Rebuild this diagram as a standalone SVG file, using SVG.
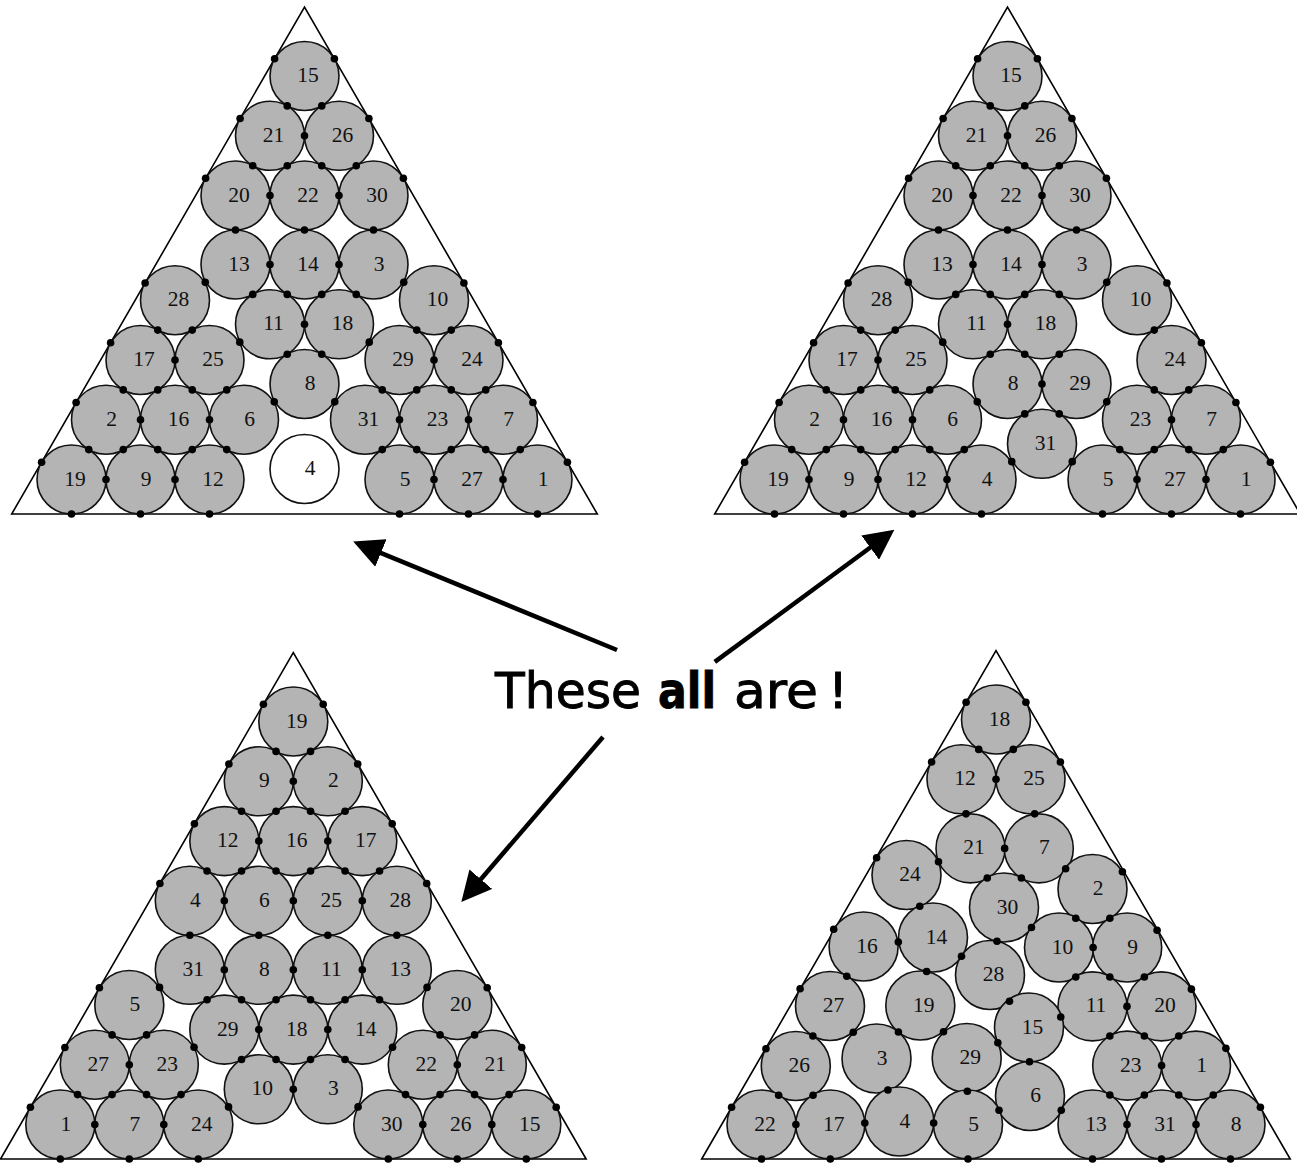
<svg xmlns="http://www.w3.org/2000/svg" width="1297" height="1165" viewBox="0 0 1297 1165">
<style>
.tri{fill:none;stroke:#000;stroke-width:1.6;stroke-linejoin:miter}
.ball circle{fill:#b4b4b4;stroke:#111;stroke-width:1.6}
.ball.empty circle{fill:#fff}
.ball text{font-family:"Liberation Serif","Times New Roman",serif;font-size:21.5px;fill:#111;text-anchor:middle}
.dots use{fill:#000}
.arrow{fill:none;stroke:#000;stroke-width:4.5}
.cap{font-family:"Comic Sans MS","DejaVu Sans",sans-serif;font-size:50px;fill:#000;stroke:#000;stroke-width:0.9}
</style>
<defs>
<circle id="d" r="3.8"/>
<marker id="ah" viewBox="0 0 30 30" markerWidth="30" markerHeight="30" markerUnits="userSpaceOnUse" refX="1" refY="15" orient="auto"><path d="M0,0 L30,15 L0,30 Z" fill="#000"/></marker>
</defs>
<rect width="1297" height="1165" fill="#fff"/>

<!-- Triangle 1 -->
<g id="tri1">
<polygon class="tri" points="11.7,514 304.5,7 597.3,514"/>
<g id="t1-15" class="ball" transform="translate(304.5 76)"><circle r="34.5"/><text x="3.5" y="6">15</text></g>
<g id="t1-21" class="ball" transform="translate(270 135.8)"><circle r="34.5"/><text x="3.5" y="6">21</text></g>
<g id="t1-26" class="ball" transform="translate(339 135.8)"><circle r="34.5"/><text x="3.5" y="6">26</text></g>
<g id="t1-20" class="ball" transform="translate(235.5 195.5)"><circle r="34.5"/><text x="3.5" y="6">20</text></g>
<g id="t1-22" class="ball" transform="translate(304.5 195.5)"><circle r="34.5"/><text x="3.5" y="6">22</text></g>
<g id="t1-30" class="ball" transform="translate(373.5 195.5)"><circle r="34.5"/><text x="3.5" y="6">30</text></g>
<g id="t1-13" class="ball" transform="translate(235.5 264.5)"><circle r="34.5"/><text x="3.5" y="6">13</text></g>
<g id="t1-14" class="ball" transform="translate(304.5 264.5)"><circle r="34.5"/><text x="3.5" y="6">14</text></g>
<g id="t1-3" class="ball" transform="translate(373.5 264.5)"><circle r="34.5"/><text x="5.5" y="6">3</text></g>
<g id="t1-28" class="ball" transform="translate(175 300.2)"><circle r="34.5"/><text x="3.5" y="6">28</text></g>
<g id="t1-10" class="ball" transform="translate(434 300.2)"><circle r="34.5"/><text x="3.5" y="6">10</text></g>
<g id="t1-11" class="ball" transform="translate(270 324.3)"><circle r="34.5"/><text x="3.5" y="6">11</text></g>
<g id="t1-18" class="ball" transform="translate(339 324.3)"><circle r="34.5"/><text x="3.5" y="6">18</text></g>
<g id="t1-17" class="ball" transform="translate(140.5 360)"><circle r="34.5"/><text x="3.5" y="6">17</text></g>
<g id="t1-25" class="ball" transform="translate(209.5 360)"><circle r="34.5"/><text x="3.5" y="6">25</text></g>
<g id="t1-29" class="ball" transform="translate(399.5 360)"><circle r="34.5"/><text x="3.5" y="6">29</text></g>
<g id="t1-24" class="ball" transform="translate(468.5 360)"><circle r="34.5"/><text x="3.5" y="6">24</text></g>
<g id="t1-8" class="ball" transform="translate(304.5 384)"><circle r="34.5"/><text x="5.5" y="6">8</text></g>
<g id="t1-2" class="ball" transform="translate(106 419.7)"><circle r="34.5"/><text x="5.5" y="6">2</text></g>
<g id="t1-16" class="ball" transform="translate(175 419.7)"><circle r="34.5"/><text x="3.5" y="6">16</text></g>
<g id="t1-6" class="ball" transform="translate(244 419.7)"><circle r="34.5"/><text x="5.5" y="6">6</text></g>
<g id="t1-31" class="ball" transform="translate(365 419.7)"><circle r="34.5"/><text x="3.5" y="6">31</text></g>
<g id="t1-23" class="ball" transform="translate(434 419.7)"><circle r="34.5"/><text x="3.5" y="6">23</text></g>
<g id="t1-7" class="ball" transform="translate(503 419.7)"><circle r="34.5"/><text x="5.5" y="6">7</text></g>
<g id="t1-19" class="ball" transform="translate(71.5 479.5)"><circle r="34.5"/><text x="3.5" y="6">19</text></g>
<g id="t1-9" class="ball" transform="translate(140.5 479.5)"><circle r="34.5"/><text x="5.5" y="6">9</text></g>
<g id="t1-12" class="ball" transform="translate(209.5 479.5)"><circle r="34.5"/><text x="3.5" y="6">12</text></g>
<g id="t1-4" class="ball empty" transform="translate(304.5 469)"><circle r="34.5"/><text x="5.5" y="6">4</text></g>
<g id="t1-5" class="ball" transform="translate(399.5 479.5)"><circle r="34.5"/><text x="5.5" y="6">5</text></g>
<g id="t1-27" class="ball" transform="translate(468.5 479.5)"><circle r="34.5"/><text x="3.5" y="6">27</text></g>
<g id="t1-1" class="ball" transform="translate(537.5 479.5)"><circle r="34.5"/><text x="5.5" y="6">1</text></g>
<g class="dots" id="t1-contacts">
<g transform="translate(304.5 76)"><use href="#d" x="-29.9" y="-17.25"/><use href="#d" x="29.9" y="-17.25"/><use href="#d" x="-17.25" y="29.9"/><use href="#d" x="17.25" y="29.9"/></g>
<g transform="translate(270 135.8)"><use href="#d" x="-29.9" y="-17.25"/><use href="#d" x="34.5" y="0"/><use href="#d" x="-17.25" y="29.9"/><use href="#d" x="17.25" y="29.9"/></g>
<g transform="translate(339 135.8)"><use href="#d" x="29.9" y="-17.25"/><use href="#d" x="-17.25" y="29.9"/><use href="#d" x="17.25" y="29.9"/></g>
<g transform="translate(235.5 195.5)"><use href="#d" x="-29.9" y="-17.25"/><use href="#d" x="34.5" y="0"/><use href="#d" x="0" y="34.5"/></g>
<g transform="translate(304.5 195.5)"><use href="#d" x="34.5" y="0"/><use href="#d" x="0" y="34.5"/></g>
<g transform="translate(373.5 195.5)"><use href="#d" x="29.9" y="-17.25"/><use href="#d" x="0" y="34.5"/></g>
<g transform="translate(235.5 264.5)"><use href="#d" x="34.5" y="0"/><use href="#d" x="17.25" y="29.9"/></g>
<g transform="translate(304.5 264.5)"><use href="#d" x="34.5" y="0"/><use href="#d" x="-17.25" y="29.9"/><use href="#d" x="17.25" y="29.9"/></g>
<g transform="translate(373.5 264.5)"><use href="#d" x="-17.25" y="29.9"/></g>
<g transform="translate(175 300.2)"><use href="#d" x="-29.9" y="-17.25"/><use href="#d" x="30.25" y="-17.85"/><use href="#d" x="-17.25" y="29.9"/><use href="#d" x="17.25" y="29.9"/></g>
<g transform="translate(434 300.2)"><use href="#d" x="29.9" y="-17.25"/><use href="#d" x="-30.25" y="-17.85"/><use href="#d" x="-17.25" y="29.9"/><use href="#d" x="17.25" y="29.9"/></g>
<g transform="translate(270 324.3)"><use href="#d" x="34.5" y="0"/><use href="#d" x="17.25" y="29.9"/></g>
<g transform="translate(339 324.3)"><use href="#d" x="-17.25" y="29.9"/></g>
<g transform="translate(140.5 360)"><use href="#d" x="-29.9" y="-17.25"/><use href="#d" x="34.5" y="0"/><use href="#d" x="-17.25" y="29.9"/><use href="#d" x="17.25" y="29.9"/></g>
<g transform="translate(209.5 360)"><use href="#d" x="30.25" y="-17.85"/><use href="#d" x="-17.25" y="29.9"/><use href="#d" x="17.25" y="29.9"/></g>
<g transform="translate(399.5 360)"><use href="#d" x="-30.25" y="-17.85"/><use href="#d" x="34.5" y="0"/><use href="#d" x="-17.25" y="29.9"/><use href="#d" x="17.25" y="29.9"/></g>
<g transform="translate(468.5 360)"><use href="#d" x="29.9" y="-17.25"/><use href="#d" x="-17.25" y="29.9"/><use href="#d" x="17.25" y="29.9"/></g>
<g transform="translate(244 419.7)"><use href="#d" x="30.25" y="-17.85"/><use href="#d" x="-17.25" y="29.9"/></g>
<g transform="translate(365 419.7)"><use href="#d" x="-30.25" y="-17.85"/><use href="#d" x="34.5" y="0"/><use href="#d" x="17.25" y="29.9"/></g>
<g transform="translate(106 419.7)"><use href="#d" x="-29.9" y="-17.25"/><use href="#d" x="34.5" y="0"/><use href="#d" x="-17.25" y="29.9"/><use href="#d" x="17.25" y="29.9"/></g>
<g transform="translate(175 419.7)"><use href="#d" x="34.5" y="0"/><use href="#d" x="-17.25" y="29.9"/><use href="#d" x="17.25" y="29.9"/></g>
<g transform="translate(434 419.7)"><use href="#d" x="34.5" y="0"/><use href="#d" x="-17.25" y="29.9"/><use href="#d" x="17.25" y="29.9"/></g>
<g transform="translate(503 419.7)"><use href="#d" x="29.9" y="-17.25"/><use href="#d" x="-17.25" y="29.9"/><use href="#d" x="17.25" y="29.9"/></g>
<g transform="translate(71.5 479.5)"><use href="#d" x="-29.9" y="-17.25"/><use href="#d" x="34.5" y="0"/><use href="#d" x="0" y="34.5"/></g>
<g transform="translate(140.5 479.5)"><use href="#d" x="34.5" y="0"/><use href="#d" x="0" y="34.5"/></g>
<g transform="translate(209.5 479.5)"><use href="#d" x="0" y="34.5"/></g>
<g transform="translate(399.5 479.5)"><use href="#d" x="34.5" y="0"/><use href="#d" x="0" y="34.5"/></g>
<g transform="translate(468.5 479.5)"><use href="#d" x="34.5" y="0"/><use href="#d" x="0" y="34.5"/></g>
<g transform="translate(537.5 479.5)"><use href="#d" x="29.9" y="-17.25"/><use href="#d" x="0" y="34.5"/></g>
</g>
</g>

<!-- Triangle 2 -->
<g id="tri2">
<polygon class="tri" points="714.7,514 1007.5,7 1300.3,514"/>
<g id="t2-15" class="ball" transform="translate(1007.5 76)"><circle r="34.5"/><text x="3.5" y="6">15</text></g>
<g id="t2-21" class="ball" transform="translate(973 135.8)"><circle r="34.5"/><text x="3.5" y="6">21</text></g>
<g id="t2-26" class="ball" transform="translate(1042 135.8)"><circle r="34.5"/><text x="3.5" y="6">26</text></g>
<g id="t2-20" class="ball" transform="translate(938.5 195.5)"><circle r="34.5"/><text x="3.5" y="6">20</text></g>
<g id="t2-22" class="ball" transform="translate(1007.5 195.5)"><circle r="34.5"/><text x="3.5" y="6">22</text></g>
<g id="t2-30" class="ball" transform="translate(1076.5 195.5)"><circle r="34.5"/><text x="3.5" y="6">30</text></g>
<g id="t2-13" class="ball" transform="translate(938.5 264.5)"><circle r="34.5"/><text x="3.5" y="6">13</text></g>
<g id="t2-14" class="ball" transform="translate(1007.5 264.5)"><circle r="34.5"/><text x="3.5" y="6">14</text></g>
<g id="t2-3" class="ball" transform="translate(1076.5 264.5)"><circle r="34.5"/><text x="5.5" y="6">3</text></g>
<g id="t2-28" class="ball" transform="translate(878 300.2)"><circle r="34.5"/><text x="3.5" y="6">28</text></g>
<g id="t2-10" class="ball" transform="translate(1137 300.2)"><circle r="34.5"/><text x="3.5" y="6">10</text></g>
<g id="t2-11" class="ball" transform="translate(973 324.3)"><circle r="34.5"/><text x="3.5" y="6">11</text></g>
<g id="t2-18" class="ball" transform="translate(1042 324.3)"><circle r="34.5"/><text x="3.5" y="6">18</text></g>
<g id="t2-17" class="ball" transform="translate(843.5 360)"><circle r="34.5"/><text x="3.5" y="6">17</text></g>
<g id="t2-25" class="ball" transform="translate(912.5 360)"><circle r="34.5"/><text x="3.5" y="6">25</text></g>
<g id="t2-24" class="ball" transform="translate(1171.5 360)"><circle r="34.5"/><text x="3.5" y="6">24</text></g>
<g id="t2-8" class="ball" transform="translate(1007.5 384)"><circle r="34.5"/><text x="5.5" y="6">8</text></g>
<g id="t2-29" class="ball" transform="translate(1076.5 384)"><circle r="34.5"/><text x="3.5" y="6">29</text></g>
<g id="t2-2" class="ball" transform="translate(809 419.7)"><circle r="34.5"/><text x="5.5" y="6">2</text></g>
<g id="t2-16" class="ball" transform="translate(878 419.7)"><circle r="34.5"/><text x="3.5" y="6">16</text></g>
<g id="t2-6" class="ball" transform="translate(947 419.7)"><circle r="34.5"/><text x="5.5" y="6">6</text></g>
<g id="t2-23" class="ball" transform="translate(1137 419.7)"><circle r="34.5"/><text x="3.5" y="6">23</text></g>
<g id="t2-7" class="ball" transform="translate(1206 419.7)"><circle r="34.5"/><text x="5.5" y="6">7</text></g>
<g id="t2-31" class="ball" transform="translate(1042 443.8)"><circle r="34.5"/><text x="3.5" y="6">31</text></g>
<g id="t2-19" class="ball" transform="translate(774.5 479.5)"><circle r="34.5"/><text x="3.5" y="6">19</text></g>
<g id="t2-9" class="ball" transform="translate(843.5 479.5)"><circle r="34.5"/><text x="5.5" y="6">9</text></g>
<g id="t2-12" class="ball" transform="translate(912.5 479.5)"><circle r="34.5"/><text x="3.5" y="6">12</text></g>
<g id="t2-4" class="ball" transform="translate(981.5 479.5)"><circle r="34.5"/><text x="5.5" y="6">4</text></g>
<g id="t2-5" class="ball" transform="translate(1102.5 479.5)"><circle r="34.5"/><text x="5.5" y="6">5</text></g>
<g id="t2-27" class="ball" transform="translate(1171.5 479.5)"><circle r="34.5"/><text x="3.5" y="6">27</text></g>
<g id="t2-1" class="ball" transform="translate(1240.5 479.5)"><circle r="34.5"/><text x="5.5" y="6">1</text></g>
<g class="dots" id="t2-contacts">
<g transform="translate(1007.5 76)"><use href="#d" x="-29.9" y="-17.25"/><use href="#d" x="29.9" y="-17.25"/><use href="#d" x="-17.25" y="29.9"/><use href="#d" x="17.25" y="29.9"/></g>
<g transform="translate(973 135.8)"><use href="#d" x="-29.9" y="-17.25"/><use href="#d" x="34.5" y="0"/><use href="#d" x="-17.25" y="29.9"/><use href="#d" x="17.25" y="29.9"/></g>
<g transform="translate(1042 135.8)"><use href="#d" x="29.9" y="-17.25"/><use href="#d" x="-17.25" y="29.9"/><use href="#d" x="17.25" y="29.9"/></g>
<g transform="translate(938.5 195.5)"><use href="#d" x="-29.9" y="-17.25"/><use href="#d" x="34.5" y="0"/><use href="#d" x="0" y="34.5"/></g>
<g transform="translate(1007.5 195.5)"><use href="#d" x="34.5" y="0"/><use href="#d" x="0" y="34.5"/></g>
<g transform="translate(1076.5 195.5)"><use href="#d" x="29.9" y="-17.25"/><use href="#d" x="0" y="34.5"/></g>
<g transform="translate(938.5 264.5)"><use href="#d" x="34.5" y="0"/><use href="#d" x="17.25" y="29.9"/></g>
<g transform="translate(1007.5 264.5)"><use href="#d" x="34.5" y="0"/><use href="#d" x="-17.25" y="29.9"/><use href="#d" x="17.25" y="29.9"/></g>
<g transform="translate(1076.5 264.5)"><use href="#d" x="-17.25" y="29.9"/></g>
<g transform="translate(878 300.2)"><use href="#d" x="-29.9" y="-17.25"/><use href="#d" x="30.25" y="-17.85"/><use href="#d" x="-17.25" y="29.9"/><use href="#d" x="17.25" y="29.9"/></g>
<g transform="translate(1137 300.2)"><use href="#d" x="29.9" y="-17.25"/><use href="#d" x="-30.25" y="-17.85"/><use href="#d" x="17.25" y="29.9"/></g>
<g transform="translate(973 324.3)"><use href="#d" x="34.5" y="0"/><use href="#d" x="17.25" y="29.9"/></g>
<g transform="translate(1042 324.3)"><use href="#d" x="-17.25" y="29.9"/><use href="#d" x="17.25" y="29.9"/></g>
<g transform="translate(843.5 360)"><use href="#d" x="-29.9" y="-17.25"/><use href="#d" x="34.5" y="0"/><use href="#d" x="-17.25" y="29.9"/><use href="#d" x="17.25" y="29.9"/></g>
<g transform="translate(912.5 360)"><use href="#d" x="30.25" y="-17.85"/><use href="#d" x="-17.25" y="29.9"/><use href="#d" x="17.25" y="29.9"/></g>
<g transform="translate(1171.5 360)"><use href="#d" x="29.9" y="-17.25"/><use href="#d" x="-17.25" y="29.9"/><use href="#d" x="17.25" y="29.9"/></g>
<g transform="translate(1007.5 384)"><use href="#d" x="34.5" y="0"/><use href="#d" x="17.25" y="29.9"/></g>
<g transform="translate(1076.5 384)"><use href="#d" x="-17.25" y="29.9"/><use href="#d" x="30.25" y="17.85"/></g>
<g transform="translate(809 419.7)"><use href="#d" x="-29.9" y="-17.25"/><use href="#d" x="34.5" y="0"/><use href="#d" x="-17.25" y="29.9"/><use href="#d" x="17.25" y="29.9"/></g>
<g transform="translate(878 419.7)"><use href="#d" x="34.5" y="0"/><use href="#d" x="-17.25" y="29.9"/><use href="#d" x="17.25" y="29.9"/></g>
<g transform="translate(947 419.7)"><use href="#d" x="30.25" y="-17.85"/><use href="#d" x="-17.25" y="29.9"/><use href="#d" x="17.25" y="29.9"/></g>
<g transform="translate(1137 419.7)"><use href="#d" x="34.5" y="0"/><use href="#d" x="-17.25" y="29.9"/><use href="#d" x="17.25" y="29.9"/></g>
<g transform="translate(1206 419.7)"><use href="#d" x="29.9" y="-17.25"/><use href="#d" x="-17.25" y="29.9"/><use href="#d" x="17.25" y="29.9"/></g>
<g transform="translate(1042 443.8)"><use href="#d" x="-30.25" y="17.85"/><use href="#d" x="30.25" y="17.85"/></g>
<g transform="translate(774.5 479.5)"><use href="#d" x="-29.9" y="-17.25"/><use href="#d" x="34.5" y="0"/><use href="#d" x="0" y="34.5"/></g>
<g transform="translate(843.5 479.5)"><use href="#d" x="34.5" y="0"/><use href="#d" x="0" y="34.5"/></g>
<g transform="translate(912.5 479.5)"><use href="#d" x="34.5" y="0"/><use href="#d" x="0" y="34.5"/></g>
<g transform="translate(981.5 479.5)"><use href="#d" x="0" y="34.5"/></g>
<g transform="translate(1102.5 479.5)"><use href="#d" x="34.5" y="0"/><use href="#d" x="0" y="34.5"/></g>
<g transform="translate(1171.5 479.5)"><use href="#d" x="34.5" y="0"/><use href="#d" x="0" y="34.5"/></g>
<g transform="translate(1240.5 479.5)"><use href="#d" x="29.9" y="-17.25"/><use href="#d" x="0" y="34.5"/></g>
</g>
</g>

<!-- Triangle 3 -->
<g id="tri3">
<polygon class="tri" points="0.5,1159 293.3,652.5 586.1,1159"/>
<g id="t3-19" class="ball" transform="translate(293.3 721.5)"><circle r="34.5"/><text x="3.5" y="6">19</text></g>
<g id="t3-9" class="ball" transform="translate(258.8 781.3)"><circle r="34.5"/><text x="5.5" y="6">9</text></g>
<g id="t3-2" class="ball" transform="translate(327.8 781.3)"><circle r="34.5"/><text x="5.5" y="6">2</text></g>
<g id="t3-12" class="ball" transform="translate(224.3 841.1)"><circle r="34.5"/><text x="3.5" y="6">12</text></g>
<g id="t3-16" class="ball" transform="translate(293.3 841.1)"><circle r="34.5"/><text x="3.5" y="6">16</text></g>
<g id="t3-17" class="ball" transform="translate(362.3 841.1)"><circle r="34.5"/><text x="3.5" y="6">17</text></g>
<g id="t3-4" class="ball" transform="translate(189.8 900.8)"><circle r="34.5"/><text x="5.5" y="6">4</text></g>
<g id="t3-6" class="ball" transform="translate(258.8 900.8)"><circle r="34.5"/><text x="5.5" y="6">6</text></g>
<g id="t3-25" class="ball" transform="translate(327.8 900.8)"><circle r="34.5"/><text x="3.5" y="6">25</text></g>
<g id="t3-28" class="ball" transform="translate(396.8 900.8)"><circle r="34.5"/><text x="3.5" y="6">28</text></g>
<g id="t3-31" class="ball" transform="translate(189.8 969.8)"><circle r="34.5"/><text x="3.5" y="6">31</text></g>
<g id="t3-8" class="ball" transform="translate(258.8 969.8)"><circle r="34.5"/><text x="5.5" y="6">8</text></g>
<g id="t3-11" class="ball" transform="translate(327.8 969.8)"><circle r="34.5"/><text x="3.5" y="6">11</text></g>
<g id="t3-13" class="ball" transform="translate(396.8 969.8)"><circle r="34.5"/><text x="3.5" y="6">13</text></g>
<g id="t3-5" class="ball" transform="translate(129.3 1005)"><circle r="34.5"/><text x="5.5" y="6">5</text></g>
<g id="t3-20" class="ball" transform="translate(457.3 1005)"><circle r="34.5"/><text x="3.5" y="6">20</text></g>
<g id="t3-29" class="ball" transform="translate(224.3 1029.6)"><circle r="34.5"/><text x="3.5" y="6">29</text></g>
<g id="t3-18" class="ball" transform="translate(293.3 1029.6)"><circle r="34.5"/><text x="3.5" y="6">18</text></g>
<g id="t3-14" class="ball" transform="translate(362.3 1029.6)"><circle r="34.5"/><text x="3.5" y="6">14</text></g>
<g id="t3-27" class="ball" transform="translate(94.8 1064.7)"><circle r="34.5"/><text x="3.5" y="6">27</text></g>
<g id="t3-23" class="ball" transform="translate(163.8 1064.7)"><circle r="34.5"/><text x="3.5" y="6">23</text></g>
<g id="t3-22" class="ball" transform="translate(422.8 1064.7)"><circle r="34.5"/><text x="3.5" y="6">22</text></g>
<g id="t3-21" class="ball" transform="translate(491.8 1064.7)"><circle r="34.5"/><text x="3.5" y="6">21</text></g>
<g id="t3-10" class="ball" transform="translate(258.8 1089.3)"><circle r="34.5"/><text x="3.5" y="6">10</text></g>
<g id="t3-3" class="ball" transform="translate(327.8 1089.3)"><circle r="34.5"/><text x="5.5" y="6">3</text></g>
<g id="t3-1" class="ball" transform="translate(60.3 1124.5)"><circle r="34.5"/><text x="5.5" y="6">1</text></g>
<g id="t3-7" class="ball" transform="translate(129.3 1124.5)"><circle r="34.5"/><text x="5.5" y="6">7</text></g>
<g id="t3-24" class="ball" transform="translate(198.3 1124.5)"><circle r="34.5"/><text x="3.5" y="6">24</text></g>
<g id="t3-30" class="ball" transform="translate(388.3 1124.5)"><circle r="34.5"/><text x="3.5" y="6">30</text></g>
<g id="t3-26" class="ball" transform="translate(457.3 1124.5)"><circle r="34.5"/><text x="3.5" y="6">26</text></g>
<g id="t3-15" class="ball" transform="translate(526.3 1124.5)"><circle r="34.5"/><text x="3.5" y="6">15</text></g>
<g class="dots" id="t3-contacts">
<g transform="translate(293.3 721.5)"><use href="#d" x="-29.9" y="-17.25"/><use href="#d" x="29.9" y="-17.25"/><use href="#d" x="-17.25" y="29.9"/><use href="#d" x="17.25" y="29.9"/></g>
<g transform="translate(258.8 781.3)"><use href="#d" x="-29.9" y="-17.25"/><use href="#d" x="34.5" y="0"/><use href="#d" x="-17.25" y="29.9"/><use href="#d" x="17.25" y="29.9"/></g>
<g transform="translate(327.8 781.3)"><use href="#d" x="29.9" y="-17.25"/><use href="#d" x="-17.25" y="29.9"/><use href="#d" x="17.25" y="29.9"/></g>
<g transform="translate(224.3 841.1)"><use href="#d" x="-29.9" y="-17.25"/><use href="#d" x="34.5" y="0"/><use href="#d" x="-17.25" y="29.9"/><use href="#d" x="17.25" y="29.9"/></g>
<g transform="translate(293.3 841.1)"><use href="#d" x="34.5" y="0"/><use href="#d" x="-17.25" y="29.9"/><use href="#d" x="17.25" y="29.9"/></g>
<g transform="translate(362.3 841.1)"><use href="#d" x="29.9" y="-17.25"/><use href="#d" x="-17.25" y="29.9"/><use href="#d" x="17.25" y="29.9"/></g>
<g transform="translate(189.8 900.8)"><use href="#d" x="-29.9" y="-17.25"/><use href="#d" x="34.5" y="0"/><use href="#d" x="0" y="34.5"/></g>
<g transform="translate(258.8 900.8)"><use href="#d" x="34.5" y="0"/><use href="#d" x="0" y="34.5"/></g>
<g transform="translate(327.8 900.8)"><use href="#d" x="34.5" y="0"/><use href="#d" x="0" y="34.5"/></g>
<g transform="translate(396.8 900.8)"><use href="#d" x="29.9" y="-17.25"/><use href="#d" x="0" y="34.5"/></g>
<g transform="translate(189.8 969.8)"><use href="#d" x="34.5" y="0"/><use href="#d" x="-30.25" y="17.6"/><use href="#d" x="17.25" y="29.9"/></g>
<g transform="translate(258.8 969.8)"><use href="#d" x="34.5" y="0"/><use href="#d" x="-17.25" y="29.9"/><use href="#d" x="17.25" y="29.9"/></g>
<g transform="translate(327.8 969.8)"><use href="#d" x="34.5" y="0"/><use href="#d" x="-17.25" y="29.9"/><use href="#d" x="17.25" y="29.9"/></g>
<g transform="translate(396.8 969.8)"><use href="#d" x="-17.25" y="29.9"/><use href="#d" x="30.25" y="17.6"/></g>
<g transform="translate(129.3 1005)"><use href="#d" x="-29.9" y="-17.25"/><use href="#d" x="-17.25" y="29.9"/><use href="#d" x="17.25" y="29.9"/></g>
<g transform="translate(457.3 1005)"><use href="#d" x="29.9" y="-17.25"/><use href="#d" x="-17.25" y="29.9"/><use href="#d" x="17.25" y="29.9"/></g>
<g transform="translate(224.3 1029.6)"><use href="#d" x="34.5" y="0"/><use href="#d" x="-30.25" y="17.6"/><use href="#d" x="17.25" y="29.9"/></g>
<g transform="translate(293.3 1029.6)"><use href="#d" x="34.5" y="0"/><use href="#d" x="-17.25" y="29.9"/><use href="#d" x="17.25" y="29.9"/></g>
<g transform="translate(362.3 1029.6)"><use href="#d" x="-17.25" y="29.9"/><use href="#d" x="30.25" y="17.6"/></g>
<g transform="translate(94.8 1064.7)"><use href="#d" x="-29.9" y="-17.25"/><use href="#d" x="34.5" y="0"/><use href="#d" x="-17.25" y="29.9"/><use href="#d" x="17.25" y="29.9"/></g>
<g transform="translate(163.8 1064.7)"><use href="#d" x="-17.25" y="29.9"/><use href="#d" x="17.25" y="29.9"/></g>
<g transform="translate(422.8 1064.7)"><use href="#d" x="34.5" y="0"/><use href="#d" x="-17.25" y="29.9"/><use href="#d" x="17.25" y="29.9"/></g>
<g transform="translate(491.8 1064.7)"><use href="#d" x="29.9" y="-17.25"/><use href="#d" x="-17.25" y="29.9"/><use href="#d" x="17.25" y="29.9"/></g>
<g transform="translate(258.8 1089.3)"><use href="#d" x="34.5" y="0"/><use href="#d" x="-30.25" y="17.6"/></g>
<g transform="translate(327.8 1089.3)"><use href="#d" x="30.25" y="17.6"/></g>
<g transform="translate(60.3 1124.5)"><use href="#d" x="-29.9" y="-17.25"/><use href="#d" x="34.5" y="0"/><use href="#d" x="0" y="34.5"/></g>
<g transform="translate(129.3 1124.5)"><use href="#d" x="34.5" y="0"/><use href="#d" x="0" y="34.5"/></g>
<g transform="translate(198.3 1124.5)"><use href="#d" x="0" y="34.5"/></g>
<g transform="translate(388.3 1124.5)"><use href="#d" x="34.5" y="0"/><use href="#d" x="0" y="34.5"/></g>
<g transform="translate(457.3 1124.5)"><use href="#d" x="34.5" y="0"/><use href="#d" x="0" y="34.5"/></g>
<g transform="translate(526.3 1124.5)"><use href="#d" x="29.9" y="-17.25"/><use href="#d" x="0" y="34.5"/></g>
</g>
</g>

<!-- Triangle 4 -->
<g id="tri4">
<polygon class="tri" points="701.7,1159 996,650.5 1290.2,1159"/>
<g id="t4-18" class="ball" transform="translate(996 719.5)"><circle r="34.5"/><text x="3.5" y="6">18</text></g>
<g id="t4-12" class="ball" transform="translate(961.5 779.3)"><circle r="34.5"/><text x="3.5" y="6">12</text></g>
<g id="t4-25" class="ball" transform="translate(1030.5 779.3)"><circle r="34.5"/><text x="3.5" y="6">25</text></g>
<g id="t4-21" class="ball" transform="translate(970.5 848.4)"><circle r="34.5"/><text x="3.5" y="6">21</text></g>
<g id="t4-7" class="ball" transform="translate(1038.8 848.4)"><circle r="34.5"/><text x="5.5" y="6">7</text></g>
<g id="t4-24" class="ball" transform="translate(906.5 875)"><circle r="34.5"/><text x="3.5" y="6">24</text></g>
<g id="t4-2" class="ball" transform="translate(1092.5 889)"><circle r="34.5"/><text x="5.5" y="6">2</text></g>
<g id="t4-30" class="ball" transform="translate(1004 907.5)"><circle r="34.5"/><text x="3.5" y="6">30</text></g>
<g id="t4-16" class="ball" transform="translate(863.6 946.5)"><circle r="34.5"/><text x="3.5" y="6">16</text></g>
<g id="t4-14" class="ball" transform="translate(933 937.5)"><circle r="34.5"/><text x="3.5" y="6">14</text></g>
<g id="t4-10" class="ball" transform="translate(1059 947.5)"><circle r="34.5"/><text x="3.5" y="6">10</text></g>
<g id="t4-9" class="ball" transform="translate(1127.2 947.5)"><circle r="34.5"/><text x="5.5" y="6">9</text></g>
<g id="t4-28" class="ball" transform="translate(990 975)"><circle r="34.5"/><text x="3.5" y="6">28</text></g>
<g id="t4-27" class="ball" transform="translate(830 1006)"><circle r="34.5"/><text x="3.5" y="6">27</text></g>
<g id="t4-19" class="ball" transform="translate(920.3 1005.5)"><circle r="34.5"/><text x="3.5" y="6">19</text></g>
<g id="t4-11" class="ball" transform="translate(1092.5 1006.4)"><circle r="34.5"/><text x="3.5" y="6">11</text></g>
<g id="t4-20" class="ball" transform="translate(1161.5 1006.4)"><circle r="34.5"/><text x="3.5" y="6">20</text></g>
<g id="t4-15" class="ball" transform="translate(1029 1027.5)"><circle r="34.5"/><text x="3.5" y="6">15</text></g>
<g id="t4-26" class="ball" transform="translate(795.8 1066)"><circle r="34.5"/><text x="3.5" y="6">26</text></g>
<g id="t4-3" class="ball" transform="translate(876.5 1058.5)"><circle r="34.5"/><text x="5.5" y="6">3</text></g>
<g id="t4-29" class="ball" transform="translate(966.7 1058)"><circle r="34.5"/><text x="3.5" y="6">29</text></g>
<g id="t4-23" class="ball" transform="translate(1127.2 1065.6)"><circle r="34.5"/><text x="3.5" y="6">23</text></g>
<g id="t4-1" class="ball" transform="translate(1196 1065.6)"><circle r="34.5"/><text x="5.5" y="6">1</text></g>
<g id="t4-6" class="ball" transform="translate(1030 1096)"><circle r="34.5"/><text x="5.5" y="6">6</text></g>
<g id="t4-22" class="ball" transform="translate(761.5 1124.5)"><circle r="34.5"/><text x="3.5" y="6">22</text></g>
<g id="t4-17" class="ball" transform="translate(830.3 1124.5)"><circle r="34.5"/><text x="3.5" y="6">17</text></g>
<g id="t4-4" class="ball" transform="translate(899.3 1121.5)"><circle r="34.5"/><text x="5.5" y="6">4</text></g>
<g id="t4-5" class="ball" transform="translate(968 1124.5)"><circle r="34.5"/><text x="5.5" y="6">5</text></g>
<g id="t4-13" class="ball" transform="translate(1092.5 1124.5)"><circle r="34.5"/><text x="3.5" y="6">13</text></g>
<g id="t4-31" class="ball" transform="translate(1161.5 1124.5)"><circle r="34.5"/><text x="3.5" y="6">31</text></g>
<g id="t4-8" class="ball" transform="translate(1230.5 1124.5)"><circle r="34.5"/><text x="5.5" y="6">8</text></g>
<g class="dots" id="t4-contacts">
<g transform="translate(996 719.5)"><use href="#d" x="-29.9" y="-17.25"/><use href="#d" x="29.9" y="-17.25"/><use href="#d" x="-17.25" y="29.9"/><use href="#d" x="17.25" y="29.9"/></g>
<g transform="translate(961.5 779.3)"><use href="#d" x="-29.9" y="-17.25"/><use href="#d" x="34.5" y="0"/><use href="#d" x="4.5" y="34.55"/></g>
<g transform="translate(1030.5 779.3)"><use href="#d" x="29.9" y="-17.25"/><use href="#d" x="4.15" y="34.55"/></g>
<g transform="translate(970.5 848.4)"><use href="#d" x="34.15" y="0"/><use href="#d" x="-32" y="13.3"/><use href="#d" x="16.75" y="29.55"/></g>
<g transform="translate(1038.8 848.4)"><use href="#d" x="-17.4" y="29.55"/><use href="#d" x="26.85" y="20.3"/></g>
<g transform="translate(906.5 875)"><use href="#d" x="-29.9" y="-17.25"/><use href="#d" x="13.25" y="31.25"/></g>
<g transform="translate(1092.5 889)"><use href="#d" x="29.9" y="-17.25"/><use href="#d" x="-16.75" y="29.25"/><use href="#d" x="17.35" y="29.25"/></g>
<g transform="translate(1004 907.5)"><use href="#d" x="27.5" y="20"/><use href="#d" x="-7" y="33.75"/></g>
<g transform="translate(863.6 946.5)"><use href="#d" x="-29.9" y="-17.25"/><use href="#d" x="34.7" y="-4.5"/><use href="#d" x="-16.8" y="29.75"/></g>
<g transform="translate(933 937.5)"><use href="#d" x="28.5" y="18.75"/><use href="#d" x="-6.35" y="34"/></g>
<g transform="translate(1059 947.5)"><use href="#d" x="34.1" y="0"/><use href="#d" x="16.75" y="29.45"/></g>
<g transform="translate(1127.2 947.5)"><use href="#d" x="29.9" y="-17.25"/><use href="#d" x="-17.35" y="29.45"/><use href="#d" x="17.15" y="29.45"/></g>
<g transform="translate(990 975)"><use href="#d" x="19.5" y="26.25"/></g>
<g transform="translate(830 1006)"><use href="#d" x="-29.9" y="-17.25"/><use href="#d" x="-17.1" y="30"/><use href="#d" x="23.25" y="26.25"/></g>
<g transform="translate(920.3 1005.5)"><use href="#d" x="-21.9" y="26.5"/><use href="#d" x="23.2" y="26.25"/></g>
<g transform="translate(1092.5 1006.4)"><use href="#d" x="34.5" y="0"/><use href="#d" x="-31.75" y="10.55"/><use href="#d" x="17.35" y="29.6"/></g>
<g transform="translate(1161.5 1006.4)"><use href="#d" x="29.9" y="-17.25"/><use href="#d" x="-17.15" y="29.6"/><use href="#d" x="17.25" y="29.6"/></g>
<g transform="translate(1029 1027.5)"><use href="#d" x="-31.15" y="15.25"/><use href="#d" x="0.5" y="34.25"/></g>
<g transform="translate(795.8 1066)"><use href="#d" x="-29.9" y="-17.25"/><use href="#d" x="-17.15" y="29.25"/><use href="#d" x="17.25" y="29.25"/></g>
<g transform="translate(876.5 1058.5)"><use href="#d" x="11.4" y="31.5"/></g>
<g transform="translate(966.7 1058)"><use href="#d" x="0.65" y="33.25"/></g>
<g transform="translate(1127.2 1065.6)"><use href="#d" x="34.4" y="0"/><use href="#d" x="-17.35" y="29.45"/><use href="#d" x="17.15" y="29.45"/></g>
<g transform="translate(1196 1065.6)"><use href="#d" x="29.9" y="-17.25"/><use href="#d" x="-17.25" y="29.45"/><use href="#d" x="17.25" y="29.45"/></g>
<g transform="translate(1030 1096)"><use href="#d" x="-31" y="14.25"/><use href="#d" x="31.25" y="14.25"/></g>
<g transform="translate(761.5 1124.5)"><use href="#d" x="-29.9" y="-17.25"/><use href="#d" x="34.4" y="0"/><use href="#d" x="0" y="34.5"/></g>
<g transform="translate(830.3 1124.5)"><use href="#d" x="34.5" y="-1.5"/><use href="#d" x="0" y="34.5"/></g>
<g transform="translate(899.3 1121.5)"><use href="#d" x="34.35" y="1.5"/></g>
<g transform="translate(968 1124.5)"><use href="#d" x="0" y="34.5"/></g>
<g transform="translate(1092.5 1124.5)"><use href="#d" x="34.5" y="0"/><use href="#d" x="0" y="34.5"/></g>
<g transform="translate(1161.5 1124.5)"><use href="#d" x="34.5" y="0"/><use href="#d" x="0" y="34.5"/></g>
<g transform="translate(1230.5 1124.5)"><use href="#d" x="29.9" y="-17.25"/><use href="#d" x="0" y="34.5"/></g>
</g>
</g>

<!-- Connectors -->
<g id="connectors">
<path class="arrow" d="M617,650 L380,552.6" marker-end="url(#ah)"/>
<path class="arrow" d="M714.8,661.9 L871,547" marker-end="url(#ah)"/>
<path class="arrow" d="M603,737 L480.2,880" marker-end="url(#ah)"/>
</g>

<!-- Caption -->
<g id="caption">
<text class="cap" x="495" y="708" textLength="146" lengthAdjust="spacingAndGlyphs">These</text>
<text class="cap" x="658" y="708" font-weight="bold" textLength="58" lengthAdjust="spacingAndGlyphs">all</text>
<text class="cap" x="734" y="708" textLength="84" lengthAdjust="spacingAndGlyphs">are</text>
<text class="cap" x="838" y="708" text-anchor="middle">!</text>
</g>
</svg>
